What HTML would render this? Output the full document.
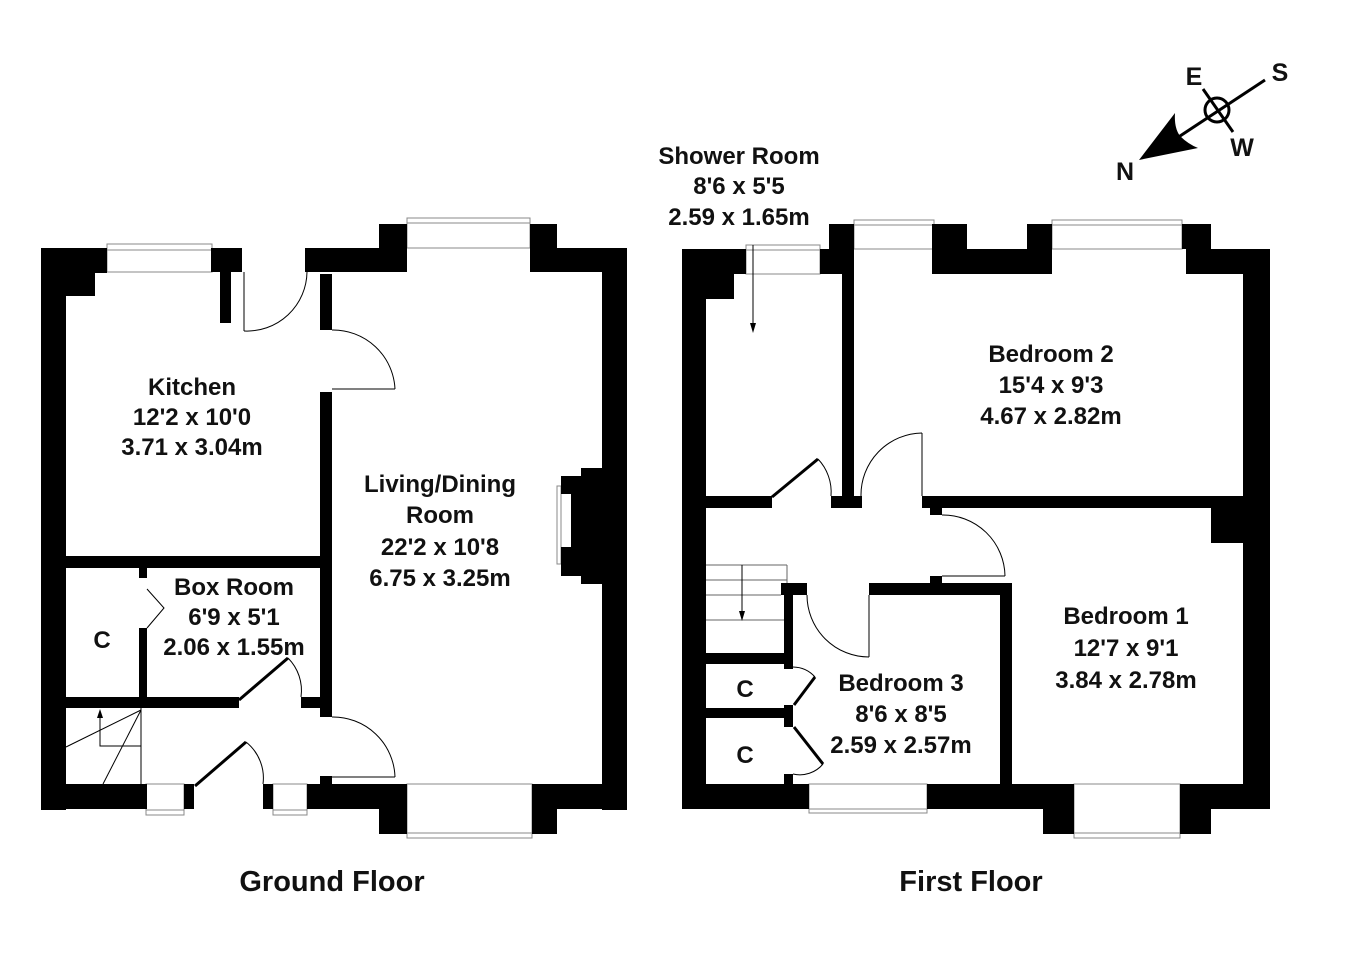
<!DOCTYPE html>
<html><head><meta charset="utf-8"><style>
html,body{margin:0;padding:0;background:#fff;}
svg{display:block;}
text{font-family:"Liberation Sans",Arial,sans-serif;font-weight:bold;fill:#111;text-anchor:middle;}
</style></head><body>
<svg width="1350" height="954" viewBox="0 0 1350 954" xmlns="http://www.w3.org/2000/svg">
<rect width="1350" height="954" fill="#fff"/>
<g fill="#fff" stroke="#888" stroke-width="1">
<rect x="107" y="244" width="105" height="28"/><line x1="107" y1="250" x2="212" y2="250"/>
<rect x="407" y="218" width="123" height="30"/><line x1="407" y1="223" x2="530" y2="223"/>
<rect x="146" y="784" width="38" height="31"/><line x1="146" y1="810" x2="184" y2="810"/>
<rect x="273" y="784" width="34" height="31"/><line x1="273" y1="810" x2="307" y2="810"/>
<rect x="407" y="784" width="125" height="54"/><line x1="407" y1="833" x2="532" y2="833"/>
<rect x="746" y="245" width="74" height="29"/><line x1="746" y1="250" x2="820" y2="250"/>
<rect x="854" y="220" width="80" height="29"/><line x1="854" y1="225" x2="934" y2="225"/>
<rect x="1052" y="220" width="130" height="29"/><line x1="1052" y1="225" x2="1182" y2="225"/>
<rect x="809" y="784" width="118" height="29"/><line x1="809" y1="809" x2="927" y2="809"/>
<rect x="1074" y="784" width="106" height="54"/><line x1="1074" y1="833" x2="1180" y2="833"/>
<rect x="557" y="486" width="4" height="78"/>
</g>
<g fill="#000">
<rect x="41" y="248" width="25" height="562"/>
<rect x="41" y="248" width="66" height="25"/>
<rect x="66" y="273" width="29" height="23"/>
<rect x="211" y="248" width="31" height="24"/>
<rect x="220" y="272" width="11" height="51"/>
<rect x="305" y="248" width="93" height="24"/>
<rect x="379" y="224" width="28" height="48"/>
<rect x="530" y="224" width="27" height="48"/>
<rect x="530" y="248" width="97" height="24"/>
<rect x="602" y="248" width="25" height="562"/>
<rect x="581" y="468" width="22" height="116"/>
<rect x="561" y="476" width="21" height="18"/>
<rect x="571" y="494" width="11" height="53"/>
<rect x="561" y="547" width="21" height="29"/>
<rect x="320" y="274" width="12" height="56"/>
<rect x="320" y="392" width="12" height="325"/>
<rect x="320" y="776" width="12" height="8"/>
<rect x="66" y="556" width="266" height="12"/>
<rect x="139" y="568" width="8" height="10"/>
<rect x="139" y="628" width="8" height="69"/>
<rect x="66" y="697" width="173" height="11"/>
<rect x="301" y="697" width="19" height="11"/>
<rect x="41" y="784" width="106" height="25"/>
<rect x="184" y="784" width="10" height="25"/>
<rect x="263" y="784" width="10" height="25"/>
<rect x="307" y="784" width="100" height="25"/>
<rect x="379" y="784" width="28" height="50"/>
<rect x="532" y="784" width="25" height="50"/>
<rect x="532" y="784" width="95" height="25"/>
</g>
<g stroke="#000" fill="none">
<line x1="239" y1="700" x2="288" y2="658" stroke-width="3"/>
<line x1="195" y1="786" x2="246" y2="742" stroke-width="3"/>
<g stroke-width="1">
<line x1="244" y1="272" x2="244" y2="331"/>
<path d="M244,331 A60,60 0 0 0 307,272"/>
<line x1="332" y1="389" x2="395" y2="389"/>
<path d="M332,330 A62,62 0 0 1 395,389"/>
<line x1="332" y1="777" x2="395" y2="777"/>
<path d="M332,717 A62,62 0 0 1 395,777"/>
<path d="M288,658 A46,46 0 0 1 301,697"/>
<path d="M246,742 A46,46 0 0 1 263,784"/>
<polyline points="147,589 164,608 147,628"/>
<line x1="141" y1="708" x2="141" y2="784"/>
<line x1="141" y1="710" x2="66" y2="747"/>
<line x1="141" y1="710" x2="103" y2="784"/>
<polyline points="141,746 100,746 100,714"/>
</g>
</g>
<polygon points="100,709 97,718 103,718" fill="#000"/>
<g fill="#000">
<rect x="682" y="249" width="24" height="560"/>
<rect x="682" y="249" width="64" height="25"/>
<rect x="706" y="274" width="28" height="25"/>
<rect x="820" y="249" width="34" height="25"/>
<rect x="829" y="224" width="25" height="25"/>
<rect x="932" y="224" width="35" height="50"/>
<rect x="942" y="249" width="110" height="25"/>
<rect x="1027" y="224" width="25" height="25"/>
<rect x="1182" y="224" width="29" height="25"/>
<rect x="1186" y="249" width="84" height="25"/>
<rect x="1243" y="249" width="27" height="560"/>
<rect x="842" y="274" width="12" height="234"/>
<rect x="831" y="496" width="31" height="12"/>
<rect x="706" y="496" width="66" height="12"/>
<rect x="922" y="496" width="348" height="12"/>
<rect x="1211" y="508" width="32" height="35"/>
<rect x="930" y="508" width="12" height="7"/>
<rect x="930" y="576" width="12" height="7"/>
<rect x="869" y="583" width="143" height="12"/>
<rect x="781" y="583" width="26" height="12"/>
<rect x="1000" y="583" width="12" height="201"/>
<rect x="784" y="583" width="9" height="86"/>
<rect x="784" y="705" width="9" height="22"/>
<rect x="784" y="774" width="9" height="10"/>
<rect x="706" y="653" width="81" height="11"/>
<rect x="706" y="708" width="87" height="10"/>
<rect x="682" y="784" width="127" height="25"/>
<rect x="927" y="784" width="147" height="25"/>
<rect x="1043" y="784" width="31" height="50"/>
<rect x="1180" y="784" width="31" height="50"/>
<rect x="1186" y="784" width="84" height="25"/>
</g>
<g stroke="#000" fill="none">
<line x1="772" y1="497" x2="818" y2="459" stroke-width="3"/>
<line x1="794" y1="705" x2="815" y2="677" stroke-width="3"/>
<line x1="794" y1="727" x2="823" y2="764" stroke-width="3"/>
<g stroke-width="1">
<path d="M818,459 A48,48 0 0 1 831,496"/>
<line x1="922" y1="433" x2="922" y2="496"/>
<path d="M922,433 A62,62 0 0 0 861,496"/>
<line x1="942" y1="576" x2="1005" y2="576"/>
<path d="M942,515 A62,62 0 0 1 1005,576"/>
<line x1="869" y1="595" x2="869" y2="657"/>
<path d="M807,595 A62,62 0 0 0 869,657"/>
<path d="M793,667 A30,30 0 0 1 815,677"/>
<path d="M823,764 A30,30 0 0 1 793,774"/>
<line x1="706" y1="565" x2="787" y2="565" stroke="#666"/>
<line x1="706" y1="580" x2="787" y2="580" stroke="#666"/>
<line x1="706" y1="595" x2="781" y2="595" stroke="#666"/>
<line x1="706" y1="620" x2="784" y2="620" stroke="#666"/>
<line x1="787" y1="565" x2="787" y2="583" stroke="#666"/>
<line x1="742" y1="565" x2="742" y2="616"/>
<line x1="753" y1="245" x2="753" y2="328"/>
</g>
</g>
<polygon points="742,621 739,611 745,611" fill="#000"/>
<polygon points="753,333 750,323 756,323" fill="#000"/>
<g stroke="#000" stroke-width="3" fill="none">
<line x1="1265" y1="80" x2="1177" y2="138"/>
<line x1="1203" y1="89" x2="1233" y2="132"/>
<circle cx="1217" cy="110" r="12"/>
</g>
<path d="M1139,160 L1175,113 Q1174,128 1180,136 Q1188,144 1198,148 Z" fill="#000"/>
<g font-size="25">
<text x="1194" y="85">E</text>
<text x="1280" y="81">S</text>
<text x="1242" y="156">W</text>
<text x="1125" y="180">N</text>
</g>
<g font-size="24">
<text x="192" y="395">Kitchen</text>
<text x="192" y="425">12'2 x 10'0</text>
<text x="192" y="455">3.71 x 3.04m</text>
<text x="440" y="492">Living/Dining</text>
<text x="440" y="523">Room</text>
<text x="440" y="555">22'2 x 10'8</text>
<text x="440" y="586">6.75 x 3.25m</text>
<text x="234" y="595">Box Room</text>
<text x="234" y="625">6'9 x 5'1</text>
<text x="234" y="655">2.06 x 1.55m</text>
<text x="102" y="648">C</text>
<text x="739" y="164">Shower Room</text>
<text x="739" y="194">8'6 x 5'5</text>
<text x="739" y="225">2.59 x 1.65m</text>
<text x="1051" y="362">Bedroom 2</text>
<text x="1051" y="393">15'4 x 9'3</text>
<text x="1051" y="424">4.67 x 2.82m</text>
<text x="1126" y="624">Bedroom 1</text>
<text x="1126" y="656">12'7 x 9'1</text>
<text x="1126" y="688">3.84 x 2.78m</text>
<text x="901" y="691">Bedroom 3</text>
<text x="901" y="722">8'6 x 8'5</text>
<text x="901" y="753">2.59 x 2.57m</text>
<text x="745" y="697">C</text>
<text x="745" y="763">C</text>
</g>
<g font-size="29">
<text x="332" y="891">Ground Floor</text>
<text x="971" y="891">First Floor</text>
</g>
</svg>
</body></html>
